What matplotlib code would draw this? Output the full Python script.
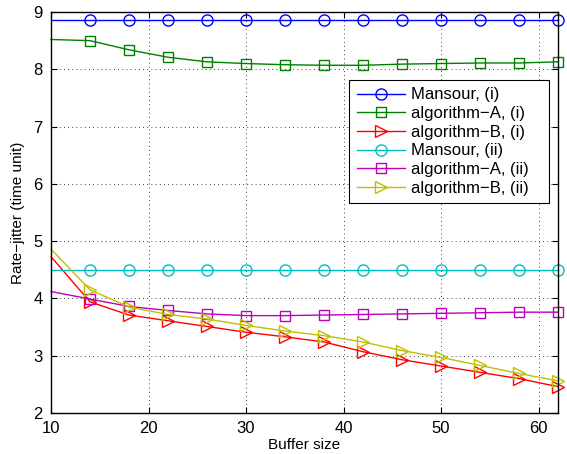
import matplotlib
matplotlib.use("Agg")
import matplotlib.pyplot as plt

plt.rcParams['font.family'] = ['Liberation Sans', 'DejaVu Sans']

buffer_size = [10, 14, 18, 22, 26, 30, 34, 38, 42, 46, 50, 54, 58, 62]
mansour_i = [8.86] * 14
alg_a_i = [8.52, 8.50, 8.34, 8.21, 8.13, 8.10, 8.08, 8.07, 8.07, 8.09, 8.10, 8.11, 8.11, 8.13]
alg_b_i = [4.73, 3.94, 3.71, 3.61, 3.51, 3.41, 3.33, 3.24, 3.07, 2.93, 2.82, 2.71, 2.60, 2.46]
mansour_ii = [4.50] * 14
alg_a_ii = [4.12, 3.99, 3.86, 3.79, 3.73, 3.70, 3.70, 3.71, 3.72, 3.73, 3.74, 3.75, 3.76, 3.76]
alg_b_ii = [4.86, 4.15, 3.85, 3.72, 3.64, 3.53, 3.43, 3.35, 3.24, 3.09, 2.97, 2.83, 2.69, 2.56]

labels = ["Mansour, (i)", "algorithm\u2212A, (i)", "algorithm\u2212B, (i)",
          "Mansour, (ii)", "algorithm\u2212A, (ii)", "algorithm\u2212B, (ii)"]
series = [mansour_i, alg_a_i, alg_b_i, mansour_ii, alg_a_ii, alg_b_ii]
colors = [(0, 0, 1), (0, 0.5, 0), (1, 0, 0), (0, 0.75, 0.75), (0.75, 0, 0.75), (0.75, 0.75, 0)]
markers = ['o', 's', '>', 'o', 's', '>']

W, H = 567, 454
fig = plt.figure(figsize=(W / 100, H / 100), dpi=100)
ax = fig.add_axes([51/W, 1 - 413/H, (558-51)/W, (413-12)/H])

for y, lab, c, m in zip(series, labels, colors, markers):
    ax.plot(buffer_size, y, color=c, lw=1.0, marker=m, markersize=8 if m != 's' else 7,
            markerfacecolor='none', markeredgecolor=c, markeredgewidth=1.0,
            markevery=slice(1, None), label=lab, clip_on=False)

ax.set_xlim(10, 62)
ax.set_ylim(2, 9)
ax.set_xticks([10, 20, 30, 40, 50, 60])
ax.set_yticks([2, 3, 4, 5, 6, 7, 8, 9])
ax.grid(True, color='black', linestyle=(0, (1, 4)), linewidth=0.6)
ax.tick_params(direction='in', top=True, right=True, labelsize=12, length=4, width=0.8)
ax.tick_params(axis='y', pad=6)
ax.tick_params(axis='x', pad=6)
for s in ax.spines.values():
    s.set_linewidth(1.0)
ax.set_xlabel("Buffer size", fontsize=11, labelpad=1)
ax.set_ylabel("Rate\u2212jitter (time unit)", fontsize=11, labelpad=6)

leg = ax.legend(loc='upper left', bbox_to_anchor=(349/W, 1 - 206/H, 200/W, 126/H),
                bbox_transform=fig.transFigure, mode='expand',
                fontsize=12, fancybox=False, edgecolor='black', framealpha=1,
                borderpad=0.45, handlelength=2.9, labelspacing=0.22, handletextpad=0.35,
                borderaxespad=0)
leg.get_frame().set_linewidth(0.8)

fig.savefig("out.png", dpi=100)
